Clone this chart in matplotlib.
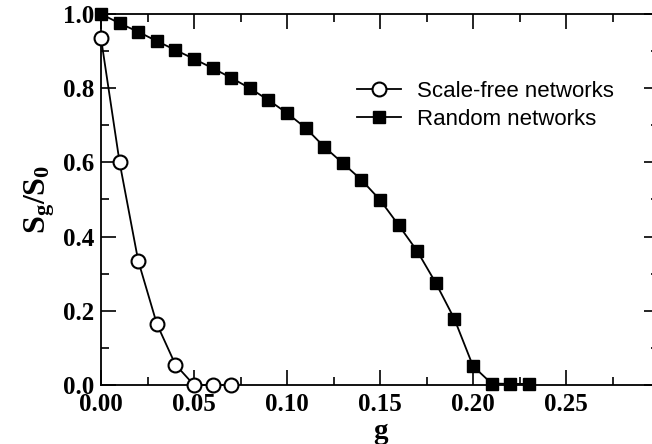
import matplotlib
matplotlib.use("Agg")
import matplotlib.pyplot as plt
from matplotlib.ticker import MultipleLocator

g_sf = [0.00, 0.01, 0.02, 0.03, 0.04, 0.05, 0.06, 0.07]
s_sf = [0.935, 0.60, 0.335, 0.165, 0.055, 0.0, 0.0, 0.0]

g_rn = [0.00, 0.01, 0.02, 0.03, 0.04, 0.05, 0.06, 0.07, 0.08, 0.09, 0.10, 0.11,
        0.12, 0.13, 0.14, 0.15, 0.16, 0.17, 0.18, 0.19, 0.20, 0.21, 0.22, 0.23]
s_rn = [1.0, 0.975, 0.952, 0.927, 0.903, 0.879, 0.854, 0.828, 0.80, 0.768, 0.733, 0.693,
        0.642, 0.598, 0.553, 0.499, 0.431, 0.361, 0.275, 0.178, 0.051, 0.004, 0.003, 0.003]

labels = ["Scale-free networks", "Random networks"]
xticks = [0, 0.05, 0.10, 0.15, 0.20, 0.25]
xticklabels = ["0.00", "0.05", "0.10", "0.15", "0.20", "0.25"]
yticks = [0, 0.2, 0.4, 0.6, 0.8, 1.0]
yticklabels = ["0.0", "0.2", "0.4", "0.6", "0.8", "1.0"]

plt.rcParams['mathtext.fontset'] = 'custom'
plt.rcParams['mathtext.bf'] = 'Liberation Serif:bold'
plt.rcParams['mathtext.rm'] = 'Liberation Serif:bold'

fig = plt.figure(figsize=(6.52, 4.44), dpi=100)
ax = fig.add_axes([101/652, 1-385/444, 558/652, 371/444])

ax.plot(g_sf, s_sf, color='black', lw=1.3, marker='o', ms=10, mfc='white', mec='black',
        mew=1.5, label=labels[0], clip_on=False, zorder=3)
ax.plot(g_rn, s_rn, color='black', lw=1.3, marker='s', ms=9, mfc='black', mec='black',
        label=labels[1], clip_on=False, zorder=3)

ax.set_xlim(0, 0.3)
ax.set_ylim(0, 1.0)
ax.xaxis.set_minor_locator(MultipleLocator(0.025))
ax.yaxis.set_minor_locator(MultipleLocator(0.1))
ax.set_xticks(xticks)
ax.set_xticklabels(xticklabels)
ax.set_yticks(yticks)
ax.set_yticklabels(yticklabels)

ax.tick_params(which='both', direction='in', top=True, right=True, width=1.2)
ax.tick_params(which='major', length=11)
ax.tick_params(axis='x', which='major', pad=6)
ax.tick_params(axis='y', which='major', pad=5)
ax.tick_params(which='minor', length=6)
for t in ax.get_xticklabels() + ax.get_yticklabels():
    t.set_fontfamily('Liberation Serif')
    t.set_fontweight('bold')
    t.set_fontsize(18)
for s in ax.spines.values():
    s.set_linewidth(1.3)

ax.set_xlabel('g', fontfamily='Liberation Serif', fontweight='bold', fontsize=21, labelpad=1)
ax.set_ylabel(r'$\mathbf{S_g/S_0}$', fontsize=23, labelpad=4)

leg = ax.legend(loc='upper left', bbox_to_anchor=(247/558, 1-58/371), frameon=False,
                prop={'family': 'Liberation Sans', 'size': 16}, handlelength=2.0,
                handletextpad=0.7, labelspacing=0.3, borderaxespad=0)

fig.savefig('out.png', dpi=100)
